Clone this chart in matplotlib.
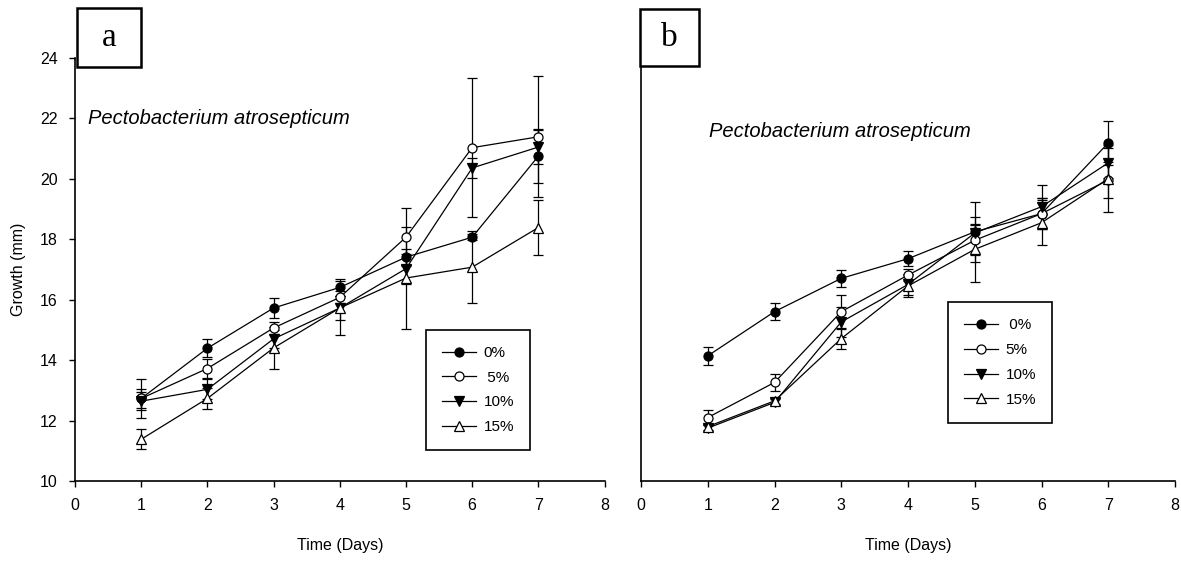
import matplotlib
matplotlib.use("Agg")
import matplotlib.pyplot as plt
from matplotlib.patches import Rectangle

plt.rcParams["font.family"] = ["Liberation Sans", "DejaVu Sans"]

days = [1, 2, 3, 4, 5, 6, 7]
labels_a = ["0%", " 5%", "10%", "15%"]
labels_b = [" 0%", "5%", "10%", "15%"]

# panel a: growth (mm) and error for each concentration
a_0 = [12.73, 14.39, 15.72, 16.40, 17.40, 18.06, 20.74]
a_0_err = [0.63, 0.30, 0.32, 0.28, 0.26, 0.10, 0.90]
a_5 = [12.73, 13.72, 15.06, 16.07, 18.06, 21.02, 21.38]
a_5_err = [0.30, 0.30, 0.20, 0.20, 0.95, 2.30, 2.00]
a_10 = [12.64, 13.03, 14.70, 15.72, 17.02, 20.35, 21.04]
a_10_err = [0.30, 0.33, 0.30, 0.40, 0.50, 0.33, 0.55]
a_15 = [11.38, 12.73, 14.40, 15.72, 16.71, 17.07, 18.38]
a_15_err = [0.33, 0.35, 0.70, 0.90, 1.70, 1.20, 0.90]

# panel b
b_0 = [14.14, 15.60, 16.70, 17.35, 18.24, 18.84, 21.18]
b_0_err = [0.30, 0.28, 0.28, 0.25, 1.00, 0.50, 0.73]
b_5 = [12.10, 13.26, 15.60, 16.81, 17.96, 18.84, 19.95]
b_5_err = [0.24, 0.27, 0.55, 0.20, 0.50, 0.50, 0.60]
b_10 = [11.75, 12.60, 15.26, 16.50, 18.20, 19.07, 20.52]
b_10_err = [0.10, 0.10, 0.50, 0.35, 0.30, 0.70, 0.50]
b_15 = [11.80, 12.65, 14.71, 16.45, 17.66, 18.54, 20.00]
b_15_err = [0.10, 0.10, 0.33, 0.35, 1.08, 0.75, 1.10]

styles = [
    dict(marker="o", mfc="black"),
    dict(marker="o", mfc="white"),
    dict(marker="v", mfc="black"),
    dict(marker="^", mfc="white"),
]

W, H = 1181, 563
fig = plt.figure(figsize=(W / 100, H / 100), dpi=100)
ax_a = fig.add_axes([0.0635, 0.1456, 0.4484, 0.7522])
ax_b = fig.add_axes([0.5428, 0.1456, 0.4522, 0.7522])


def draw_panel(ax, series, errs, labels, leg_anchor):
    handles = []
    for y, e, st in zip(series, errs, styles):
        eb = ax.errorbar(days, y, yerr=e, color="black", lw=0.9,
                         elinewidth=0.9, capsize=3.6, capthick=0.9,
                         marker=st["marker"], mfc=st["mfc"], mec="black",
                         ms=6.5, mew=0.9)
        handles.append(eb.lines[0])
    ax.set_xlim(0, 8)
    ax.set_ylim(10, 24)
    ax.set_xticks(range(0, 9))
    ax.spines["top"].set_visible(False)
    ax.spines["right"].set_visible(False)
    ax.spines["left"].set_linewidth(1.2)
    ax.spines["bottom"].set_linewidth(1.2)
    ax.tick_params(direction="out", length=4.5, width=1.0, labelsize=11.5, pad=8)
    ax.set_xlabel("Time (Days)", fontsize=11.5, labelpad=18)
    leg = ax.legend(handles, labels, loc="lower left",
                    bbox_to_anchor=leg_anchor, borderaxespad=0,
                    fontsize=11, handlelength=2.2, handletextpad=0.5,
                    labelspacing=0.7, borderpad=1.05, fancybox=False,
                    framealpha=1, edgecolor="black")
    leg.get_frame().set_linewidth(1.2)


draw_panel(ax_a, [a_0, a_5, a_10, a_15],
           [a_0_err, a_5_err, a_10_err, a_15_err], labels_a, (0.663, 0.073))
draw_panel(ax_b, [b_0, b_5, b_10, b_15],
           [b_0_err, b_5_err, b_10_err, b_15_err], labels_b, (0.575, 0.138))

ax_a.set_yticks(range(10, 25, 2))
ax_a.set_ylabel("Growth (mm)", fontsize=11.5, labelpad=10)
ax_b.set_yticks([])

ax_a.text(0.025, 0.855, "Pectobacterium atrosepticum", transform=ax_a.transAxes,
          fontsize=14.5, style="italic", va="center")
ax_b.text(0.128, 0.825, "Pectobacterium atrosepticum", transform=ax_b.transAxes,
          fontsize=14.5, style="italic", va="center")

# boxed panel letters (pixel extents: left, top, right, bottom)
for (x0, y0, x1, y1), label in [((77, 8, 141, 67), "a"), ((640, 9, 699, 66), "b")]:
    fig.add_artist(Rectangle((x0 / W, 1 - y1 / H), (x1 - x0) / W, (y1 - y0) / H,
                             transform=fig.transFigure, fc="white", ec="black",
                             lw=1.8, zorder=5))
    fig.text((x0 + x1) / 2 / W, 1 - (y0 + y1) / 2 / H, label, fontsize=24,
             family="Liberation Serif", ha="center", va="center", zorder=6)

fig.savefig("out.png", dpi=100)
